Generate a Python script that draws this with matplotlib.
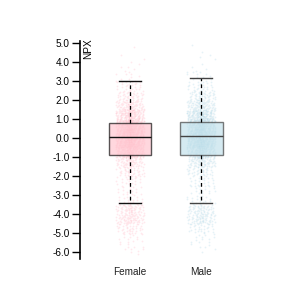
import numpy as np
import matplotlib
matplotlib.use("Agg")
import matplotlib.pyplot as plt

plt.rcParams['font.family'] = ['Liberation Sans', 'DejaVu Sans']

groups = ['Female', 'Male']
# box summary: whislo, q1, med, q3, whishi
whislo = [-3.43, -3.40]
q1 = [-0.90, -0.87]
med = [0.05, 0.10]
q3 = [0.78, 0.85]
whishi = [3.00, 3.15]

# approximate number of dots per 0.5 NPX bin (bin lower edges below)
bin_edges = [-6.5, -6.0, -5.5, -5.0, -4.5, -4.0, -3.5, -3.0, -2.5, -2.0, -1.5, -1.0,
             -0.5, 0.0, 0.5, 1.0, 1.5, 2.0, 2.5, 3.0, 3.5, 4.0, 4.5]
female_counts = [2, 10, 14, 35, 70, 60, 22, 16, 22, 40, 70, 150,
                 220, 220, 190, 130, 80, 45, 24, 10, 5, 3, 1]
male_counts = [1, 6, 12, 26, 60, 55, 20, 16, 22, 40, 72, 150,
               220, 220, 200, 135, 85, 50, 26, 12, 5, 3, 2]

point_colors = ['#ffa8b8', '#98cce0']
box_colors = ['#ffc6d0', '#c4e2ec']
edge_colors = ['#111111', '#444444']

fig = plt.figure(figsize=(3, 3), dpi=100)
ax = fig.add_axes([0.2667, 0.1367, 0.57, 0.7267])

# dot clouds: counts per bin spread with a low-discrepancy sequence (no randomness)
a1, a2 = 0.7548776662, 0.5698402910
for k, counts in enumerate([female_counts, male_counts]):
    xs, ys = [], []
    idx = 0
    for lo, n in zip(bin_edges, counts):
        for i in range(n):
            idx += 1
            ys.append(lo + 0.5 * ((idx * a1 + 0.3) % 1))
            u = 2 * ((idx * a2 + 0.7) % 1) - 1
            xs.append(k + 1 + 0.2 * u * (0.55 + 0.45 * abs(u)))
    ax.scatter(xs, ys, s=1.6, color=point_colors[k], alpha=0.25, lw=0, zorder=1)

stats = []
for i, g in enumerate(groups):
    stats.append(dict(label=g, whislo=whislo[i], q1=q1[i], med=med[i],
                      q3=q3[i], whishi=whishi[i], fliers=[]))

for i in range(2):
    ax.bxp([stats[i]], positions=[i + 1], widths=0.6, patch_artist=True,
           showfliers=False, capwidths=0.3,
           boxprops=dict(facecolor=box_colors[i], edgecolor=edge_colors[i], lw=1.0, alpha=0.7),
           medianprops=dict(color=edge_colors[i], lw=1.0),
           whiskerprops=dict(color='black', lw=0.9, ls=(0, (3, 2.5))),
           capprops=dict(color=edge_colors[i], lw=1.0))

ax.set_xlim(0.30, 2.7)
ax.set_ylim(-6.35, 5.12)
ax.set_yticks(np.arange(-6, 6, 1.0))
ax.set_yticklabels(['%.1f' % v for v in np.arange(-6, 6, 1.0)])
ax.set_xticks([1, 2])
ax.set_xticklabels(groups)
ax.tick_params(axis='y', length=6, width=1, pad=1.5, labelsize=7.2)
ax.tick_params(axis='x', length=0, pad=6, labelsize=7.2, labelcolor='#222222')
for s in ['top', 'right', 'bottom']:
    ax.spines[s].set_visible(False)
ax.spines['left'].set_linewidth(1.2)
ax.text(0.02, 1.01, 'NPX', transform=ax.transAxes, rotation=90,
        ha='left', va='top', fontsize=7.2)

plt.savefig('out.png', dpi=100)
